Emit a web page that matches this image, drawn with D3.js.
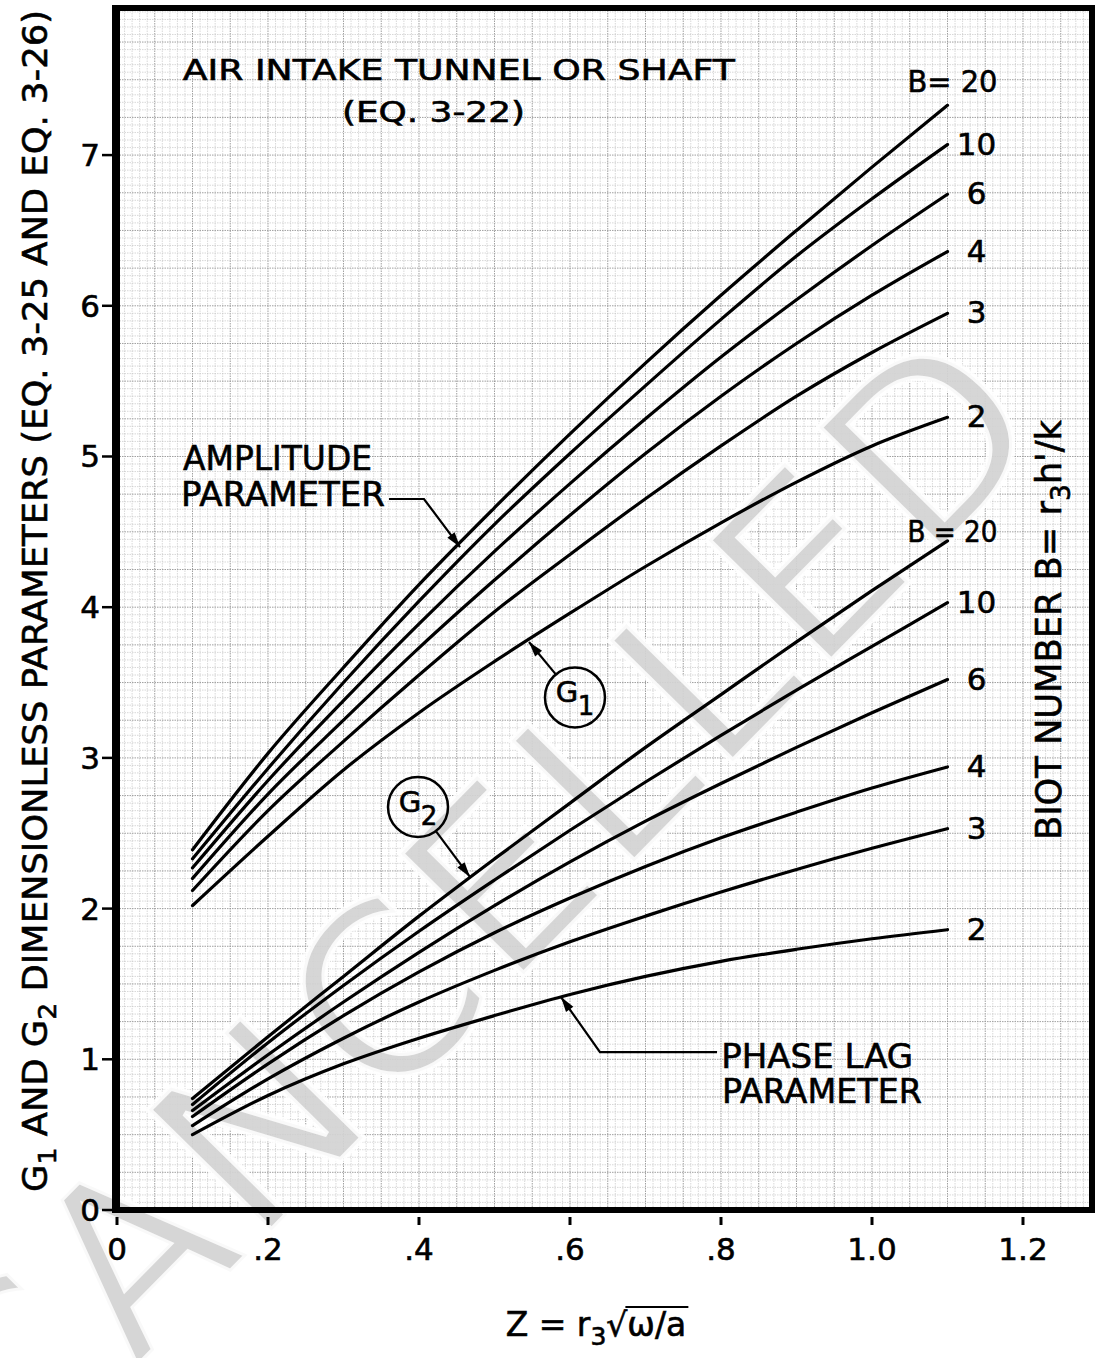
<!DOCTYPE html>
<html><head><meta charset="utf-8">
<script src="https://cdn.jsdelivr.net/npm/d3@7"></script>
<style>
html,body{margin:0;padding:0;background:#fff;}
svg{display:block;}
text{font-family:"DejaVu Sans",sans-serif;}
text.ink{fill:#000;stroke:#000;stroke-width:0.6px;}
</style></head><body>
<svg id="chart" width="1096" height="1358"></svg>
<script>
// ---------- data ----------
const zValues = [0.1,0.2,0.3,0.4,0.5,0.6,0.7,0.8,0.9,1.0,1.1];
const biotNumbers = [20,10,6,4,3,2];
// G1 amplitude parameter
const g1B20 = [2.39,3.03,3.60,4.15,4.66,5.15,5.62,6.07,6.50,6.92,7.33];
const g1B10 = [2.33,2.93,3.50,4.04,4.55,5.02,5.47,5.91,6.33,6.71,7.07];
const g1B6  = [2.27,2.85,3.38,3.89,4.37,4.82,5.25,5.66,6.04,6.40,6.74];
const g1B4  = [2.20,2.76,3.25,3.73,4.18,4.61,5.02,5.40,5.75,6.07,6.36];
const g1B3  = [2.12,2.65,3.11,3.55,3.97,4.35,4.72,5.07,5.40,5.69,5.95];
const g1B2  = [2.02,2.48,2.92,3.30,3.64,3.96,4.27,4.56,4.83,5.07,5.26];
// G2 phase lag parameter
const g2B20 = [0.74,1.15,1.55,1.95,2.33,2.70,3.07,3.42,3.77,4.11,4.44];
const g2B10 = [0.70,1.11,1.49,1.85,2.19,2.52,2.84,3.15,3.45,3.74,4.03];
const g2B6  = [0.66,1.03,1.38,1.71,2.02,2.31,2.58,2.83,3.07,3.30,3.52];
const g2B4  = [0.62,0.97,1.29,1.58,1.84,2.07,2.28,2.47,2.64,2.80,2.94];
const g2B3  = [0.56,0.87,1.14,1.38,1.59,1.78,1.95,2.11,2.26,2.40,2.53];
const g2B2  = [0.50,0.76,0.97,1.14,1.29,1.43,1.55,1.65,1.73,1.80,1.86];
const g1Labels = ["B= 20","10","6","4","3","2"];
const g2Labels = ["B = 20","10","6","4","3","2"];
const xTicks = [0,0.2,0.4,0.6,0.8,1.0,1.2];
const xTickLabels = ["0",".2",".4",".6",".8","1.0","1.2"];
const yTicks = [0,1,2,3,4,5,6,7];
const yTickLabels = ["0","1","2","3","4","5","6","7"];

// ---------- setup ----------
const svg = d3.select("#chart");
const x = d3.scaleLinear().domain([0, 1.2914]).range([117, 1092]);
const y = d3.scaleLinear().domain([0, 7.976]).range([1210, 8]);
const P = (z, v) => [x(z), y(v)];

// ---------- graph paper grid ----------
const grid = svg.append("g");
const gx = d3.range(1, 129);
const gy = d3.range(1, 160);
grid.selectAll("line.vx").data(gx).join("line")
  .attr("x1", d => x(d * 0.01)).attr("x2", d => x(d * 0.01))
  .attr("y1", y(7.976)).attr("y2", y(0))
  .attr("stroke", d => d % 5 === 0 ? "#959595" : "#bdbdbd")
  .attr("stroke-width", d => d % 5 === 0 ? 0.9 : 0.6)
  .attr("stroke-dasharray", "1.5,1");
grid.selectAll("line.hy").data(gy).join("line")
  .attr("y1", d => y(d * 0.05)).attr("y2", d => y(d * 0.05))
  .attr("x1", x(0)).attr("x2", x(1.2914))
  .attr("stroke", d => d % 5 === 0 ? "#959595" : "#bdbdbd")
  .attr("stroke-width", d => d % 5 === 0 ? 0.9 : 0.6)
  .attr("stroke-dasharray", "1.5,1");

// ---------- watermark ----------
const wm = svg.append("text").text("CANCELLED")
  .attr("font-size", 236).attr("letter-spacing", 9)
  .style("fill", "#d3d3d3").style("stroke", "#ffffff").style("stroke-width", 6)
  .style("stroke-opacity", 0.85).style("fill-opacity", 0.92);
const p5 = wm.node().getStartPositionOfChar(5);
wm.attr("transform", `translate(618,878) rotate(-45.5) translate(${-p5.x},0)`);

// ---------- frame ----------
svg.append("rect").attr("x", x(0)).attr("y", y(7.976))
  .attr("width", x(1.2914) - x(0)).attr("height", y(0) - y(7.976))
  .attr("fill", "none").attr("stroke", "#000").attr("stroke-width", 6);
svg.append("line").attr("x1", x(0) - 1).attr("x2", x(0) - 1)
  .attr("y1", y(7.976) - 3).attr("y2", y(0) + 3)
  .attr("stroke", "#000").attr("stroke-width", 8);

// y ticks
svg.selectAll("line.yt").data(yTicks).join("line")
  .attr("x1", x(0) - 15).attr("x2", x(0)).attr("y1", d => y(d)).attr("y2", d => y(d))
  .attr("stroke", "#000").attr("stroke-width", 2.5);
svg.selectAll("text.yl").data(yTicks).join("text").attr("class", "ink")
  .attr("x", x(0) - 17).attr("y", d => y(d) + 11)
  .attr("text-anchor", "end").attr("font-size", 31)
  .text((d, i) => yTickLabels[i]);
// x ticks
svg.selectAll("line.xt").data(xTicks).join("line")
  .attr("x1", d => x(d)).attr("x2", d => x(d)).attr("y1", y(0) + 7).attr("y2", y(0) + 15)
  .attr("stroke", "#000").attr("stroke-width", 3);
svg.selectAll("text.xl").data(xTicks).join("text").attr("class", "ink")
  .attr("x", d => x(d)).attr("y", y(0) + 50)
  .attr("text-anchor", "middle").attr("font-size", 31)
  .text((d, i) => xTickLabels[i]);

// ---------- curves ----------
const line = d3.line().x(d => x(d[0])).y(d => y(d[1])).curve(d3.curveMonotoneX);
const g1Series = [g1B20, g1B10, g1B6, g1B4, g1B3, g1B2];
const g2Series = [g2B20, g2B10, g2B6, g2B4, g2B3, g2B2];
const curves = svg.append("g");
[...g1Series, ...g2Series].forEach(s => {
  curves.append("path").attr("d", line(zValues.map((z, i) => [z, s[i]])))
    .attr("fill", "none").attr("stroke", "#000").attr("stroke-width", 3.2)
    .attr("stroke-linecap", "round");
});

// curve labels
const zEnd = zValues[zValues.length - 1];
function drawLabels(series, labels, topDy) {
  series.forEach((s, i) => {
    const vEnd = s[s.length - 1];
    const t = svg.append("text").attr("class", "ink").attr("font-size", 31).text(labels[i]);
    if (i === 0) {
      t.attr("x", x(zEnd) + 50).attr("y", y(vEnd) + topDy).attr("text-anchor", "end")
       .attr("textLength", 90).attr("lengthAdjust", "spacingAndGlyphs");
    } else {
      t.attr("x", x(zEnd) + 29).attr("y", y(vEnd) + 10).attr("text-anchor", "middle");
    }
  });
}
drawLabels(g1Series, g1Labels, -13);
drawLabels(g2Series, g2Labels, 1);

// ---------- annotations ----------
function arrowHead(tip, from) {
  const dx = tip[0] - from[0], dy = tip[1] - from[1];
  const L = Math.hypot(dx, dy), ux = dx / L, uy = dy / L;
  const len = 15, hw = 4.5;
  const bx = tip[0] - ux * len, by = tip[1] - uy * len;
  svg.append("path")
    .attr("d", `M${tip[0]},${tip[1]}L${bx - uy * hw},${by + ux * hw}L${bx + uy * hw},${by - ux * hw}Z`)
    .attr("fill", "#000");
}
function leader(pts) {
  svg.append("path").attr("d", d3.line()(pts)).attr("fill", "none")
    .attr("stroke", "#000").attr("stroke-width", 2.2);
  arrowHead(pts[pts.length - 1], pts[pts.length - 2]);
}
function label(z, v, size, len, str) {
  return svg.append("text").attr("class", "ink").attr("x", x(z)).attr("y", y(v)).attr("font-size", size)
    .attr("textLength", len).attr("lengthAdjust", "spacingAndGlyphs").text(str);
}
// amplitude parameter
leader([P(0.3603, 4.718), P(0.4066, 4.718), P(0.4543, 4.399)]);
label(0.0875, 4.91, 33, 189, "AMPLITUDE");
label(0.0848, 4.67, 33, 204, "PARAMETER");
// phase lag parameter
leader([P(0.7947, 1.048), P(0.6397, 1.048), P(0.5881, 1.413)]);
label(0.8003, 0.943, 33, 192, "PHASE LAG");
label(0.8013, 0.710, 33, 200, "PARAMETER");
// G1 / G2 circles
function circleLabel(c, sub, tip) {
  const [cx, cy] = P(c[0], c[1]);
  svg.append("circle").attr("cx", cx).attr("cy", cy).attr("r", 30)
    .attr("fill", "none").attr("stroke", "#000").attr("stroke-width", 2.5);
  svg.append("text").attr("class", "ink").attr("x", cx - 8).attr("y", cy + 5).attr("text-anchor", "middle")
    .attr("font-size", 29).text("G");
  svg.append("text").attr("class", "ink").attr("x", cx + 11).attr("y", cy + 18).attr("text-anchor", "middle")
    .attr("font-size", 26).text(sub);
  const t = P(tip[0], tip[1]);
  const dx = t[0] - cx, dy = t[1] - cy, L = Math.hypot(dx, dy);
  const start = [cx + dx / L * 30, cy + dy / L * 30];
  leader([start, t]);
}
circleLabel([0.6066, 3.401], "1", [0.5457, 3.769]);
circleLabel([0.3987, 2.674], "2", [0.4675, 2.210]);

// ---------- titles ----------
label(0.0871, 7.495, 28, 552, "AIR INTAKE TUNNEL OR SHAFT");
label(0.2980, 7.219, 28, 183, "(EQ. 3-22)");

// y axis title
const yt = svg.append("text").attr("class", "ink").attr("transform", "translate(47,601) rotate(-90)")
  .attr("text-anchor", "middle").attr("font-size", 33)
  .attr("textLength", 1182).attr("lengthAdjust", "spacingAndGlyphs");
yt.append("tspan").text("G");
yt.append("tspan").attr("dy", 9).attr("font-size", 25).text("1");
yt.append("tspan").attr("dy", -9).text(" AND G");
yt.append("tspan").attr("dy", 9).attr("font-size", 25).text("2");
yt.append("tspan").attr("dy", -9).text(" DIMENSIONLESS PARAMETERS  (EQ. 3-25 AND EQ. 3-26)");

// right title
const rt = svg.append("text").attr("class", "ink").attr("transform", "translate(1061,630) rotate(-90)")
  .attr("text-anchor", "middle").attr("font-size", 36)
  .attr("textLength", 420).attr("lengthAdjust", "spacingAndGlyphs");
rt.append("tspan").text("BIOT NUMBER B= r");
rt.append("tspan").attr("dy", 9).attr("font-size", 27).text("3");
rt.append("tspan").attr("dy", -9).text("h'/k");

// x axis title
const xt = svg.append("text").attr("class", "ink").attr("x", 596).attr("y", 1336)
  .attr("text-anchor", "middle").attr("font-size", 33);
xt.append("tspan").text("Z = r");
xt.append("tspan").attr("dy", 9).attr("font-size", 25).text("3");
xt.append("tspan").attr("dy", -9).text("\u221A\u03C9/a");
const xn = xt.node();
const eRoot = xn.getExtentOfChar(6), eEnd = xn.getExtentOfChar(9);
svg.append("line").attr("x1", eRoot.x + eRoot.width - 2).attr("x2", eEnd.x + eEnd.width + 2)
  .attr("y1", eRoot.y + 2).attr("y2", eRoot.y + 2)
  .attr("stroke", "#000").attr("stroke-width", 2.2);
</script>
</body></html>
